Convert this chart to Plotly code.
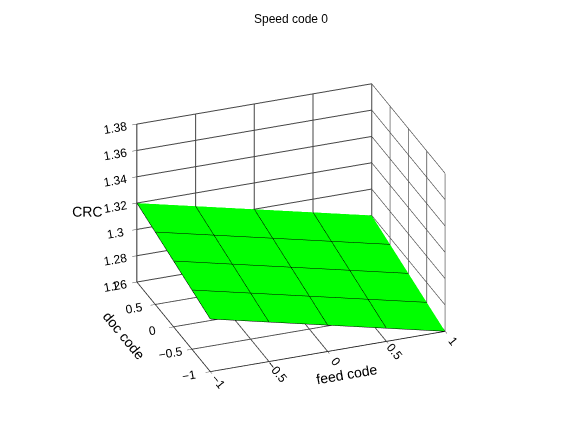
import plotly.graph_objects as go

feed = [-1, -0.5, 0, 0.5, 1]
doc = [-1, -0.5, 0, 0.5, 1]
# CRC values [doc][feed]
crc = [
    [1.300, 1.290, 1.280, 1.270, 1.260],
    [1.305, 1.295, 1.285, 1.275, 1.265],
    [1.310, 1.300, 1.290, 1.280, 1.270],
    [1.315, 1.305, 1.295, 1.285, 1.275],
    [1.320, 1.310, 1.300, 1.290, 1.280],
]

fig = go.Figure(go.Surface(
    x=feed, y=doc, z=crc,
    colorscale=[[0, '#00ff00'], [1, '#00ff00']], showscale=False,
    lighting=dict(ambient=1, diffuse=0, specular=0, fresnel=0),
    contours=dict(
        x=dict(show=True, start=-1, end=1, size=0.5, color='black', width=1),
        y=dict(show=True, start=-1, end=1, size=0.5, color='black', width=1),
    ),
))
ax = dict(showbackground=False, gridcolor='#444', linecolor='black', showline=True,
          tickfont=dict(size=12, family='Arial'), ticks='outside', zeroline=False)
fig.update_layout(
    width=566, height=438, paper_bgcolor='white',
    margin=dict(l=0, r=0, t=20, b=0),
    title=dict(text='Speed code 0', x=0.5, y=0.985, font=dict(size=12, family='Arial')),
    font=dict(family='Arial', size=12, color='black'),
    scene=dict(
        xaxis=dict(ax, title='feed code', range=[-1, 1], tickvals=[-1, -0.5, 0, 0.5, 1]),
        yaxis=dict(ax, title='doc code', range=[-1, 1], tickvals=[-1, -0.5, 0, 0.5, 1]),
        zaxis=dict(ax, title='CRC', range=[1.26, 1.38], tickvals=[1.26, 1.28, 1.3, 1.32, 1.34, 1.36, 1.38]),
        aspectmode='manual', aspectratio=dict(x=1.2, y=1, z=0.85),
        camera=dict(eye=dict(x=-0.75, y=-2.0, z=1.05), center=dict(x=0, y=0, z=-0.05),
                    projection=dict(type='orthographic')),
    ),
)
fig.write_html('out.html')
